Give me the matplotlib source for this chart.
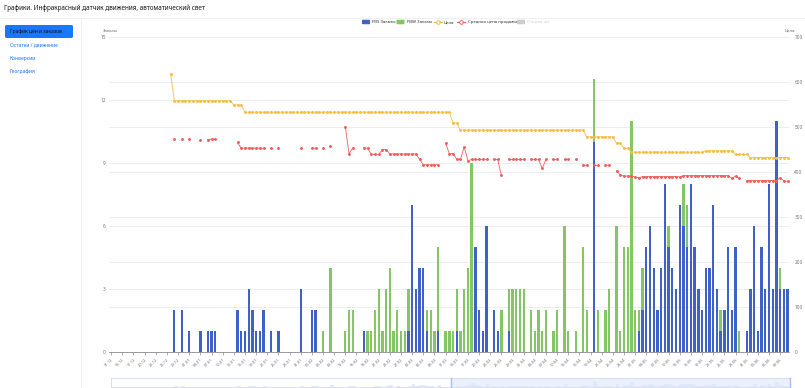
import numpy as np
import pandas as pd
import matplotlib
matplotlib.use('Agg')
import matplotlib.pyplot as plt
from matplotlib.patches import FancyBboxPatch, Rectangle
from matplotlib.lines import Line2D

plt.rcParams['font.family'] = ['Noto Sans', 'DejaVu Sans']

N = None
# categories: one per day
dates = pd.date_range('2024-12-11', '2025-06-11', freq='D')
labels = [d.strftime('%d.%m') for d in dates]

# orders (left axis)
fbs = [0, 0, 0, 0, 0, 0, 0, 0, 0, 0,
       0, 0, 0, 0, 0, 0, 0, 2, 0, 2,
       0, 1, 0, 0, 1, 0, 1, 1, 1, 0,
       0, 0, 0, 0, 2, 1, 1, 3, 2, 1,
       1, 2, 0, 1, 0, 1, 0, 0, 0, 0,
       0, 3, 0, 0, 2, 2, 0, 0, 0, 0,
       0, 0, 0, 0, 0, 0, 0, 0, 1, 0,
       0, 0, 0, 0, 0, 0, 0, 0, 0, 0,
       1, 7, 3, 4, 4, 1, 0, 0, 1, 0,
       0, 0, 0, 1, 0, 0, 0, 0, 5, 2,
       1, 6, 0, 2, 1, 0, 0, 1, 0, 0,
       0, 0, 0, 0, 0, 0, 0, 0, 0, 0,
       0, 0, 0, 0, 0, 0, 0, 0, 0, 0,
       10, 0, 0, 0, 0, 0, 0, 0, 0, 0,
       0, 0, 1, 2, 5, 6, 4, 2, 4, 8,
       5, 4, 3, 7, 6, 5, 8, 5, 3, 2,
       4, 4, 7, 3, 1, 2, 5, 2, 5, 0,
       0, 1, 3, 6, 1, 5, 3, 8, 3, 11,
       3, 3, 3]

fbw = [0, 0, 0, 0, 0, 0, 0, 0, 0, 0,
       0, 0, 0, 0, 0, 0, 0, 0, 0, 0,
       0, 0, 0, 0, 0, 0, 0, 0, 0, 0,
       0, 0, 0, 0, 0, 0, 0, 0, 0, 0,
       0, 0, 0, 0, 0, 0, 0, 0, 0, 0,
       0, 0, 0, 0, 0, 0, 0, 1, 0, 4,
       0, 0, 0, 1, 2, 2, 0, 0, 0, 1,
       1, 2, 3, 1, 3, 4, 1, 2, 1, 1,
       2, 0, 0, 0, 0, 1, 2, 1, 4, 0,
       1, 1, 1, 2, 1, 3, 4, 9, 0, 0,
       0, 0, 0, 0, 0, 2, 0, 2, 3, 3,
       3, 3, 0, 2, 1, 2, 1, 2, 0, 1,
       2, 0, 6, 1, 0, 1, 0, 5, 2, 0,
       3, 2, 0, 2, 3, 0, 6, 1, 5, 5,
       11, 2, 1, 2, 0, 0, 0, 0, 0, 0,
       1, 0, 0, 0, 2, 2, 0, 0, 0, 0,
       0, 0, 0, 0, 1, 0, 0, 0, 0, 1,
       0, 0, 0, 0, 0, 0, 0, 0, 0, 0,
       1, 0, 0]

# prices (right axis)
price = [N, N, N, N, N, N, N, N, N, N,
         N, N, N, N, N, N, 618, 558, 558, 558,
         558, 558, 558, 558, 558, 558, 558, 558, 558, 558,
         558, 558, 558, 549, 549, 549, 533, 533, 533, 533,
         533, 533, 533, 533, 533, 533, 533, 533, 533, 533,
         533, 533, 533, 533, 533, 533, 533, 533, 533, 533,
         533, 533, 533, 533, 533, 533, 533, 533, 533, 533,
         533, 533, 533, 533, 533, 533, 533, 533, 533, 533,
         533, 533, 533, 533, 533, 533, 533, 533, 533, 533,
         533, 533, 509, 509, 493, 493, 493, 493, 493, 493,
         493, 493, 493, 493, 493, 493, 493, 493, 493, 493,
         493, 493, 493, 493, 493, 493, 493, 493, 493, 493,
         493, 493, 493, 493, 493, 493, 493, 493, 478, 478,
         478, 478, 478, 478, 478, 478, 464, 464, 453, 453,
         444, 444, 444, 444, 444, 444, 444, 444, 444, 444,
         444, 444, 444, 444, 444, 444, 444, 444, 444, 444,
         447, 447, 447, 447, 447, 447, 447, 447, 439, 439,
         439, 439, 432, 432, 432, 432, 432, 432, 432, 432,
         432, 432, 432]

avg_price = [N, N, N, N, N, N, N, N, N, N,
             N, N, N, N, N, N, N, 473, N, 473,
             N, 473, N, N, 471, N, 472, 473, 473, N,
             N, N, N, N, 466, 453, 453, 453, 453, 453,
             453, 453, N, 453, N, 453, N, N, N, N,
             N, 453, N, N, 453, 453, N, 453, N, 458,
             N, N, N, 501, 441, 453, N, N, 453, 453,
             439, 439, 439, 450, 450, 440, 440, 440, 440, 440,
             440, 440, 440, 428, 416, 416, 416, 416, 416, N,
             464, 441, 441, 428, 428, 456, 425, 428, 428, 428,
             428, 428, N, 428, 428, 393, N, 428, 428, 428,
             428, 428, N, 428, 428, 428, 408, 428, N, 428,
             428, N, 428, 428, N, 428, N, 415, 415, N,
             415, 415, N, 415, 415, N, 403, 393, 391, 391,
             391, 389, 387, 390, 390, 390, 390, 390, 390, 390,
             390, 390, 390, 389, 392, 392, 392, 392, 392, 392,
             392, 392, 392, 392, 392, 392, 392, 386, 391, 386,
             N, 381, 381, 381, 381, 381, 381, 381, 381, 381,
             387, 381, 379]

W, H = 805, 388
BLUE = '#3f61c8'
GREEN = '#84c665'
YELLOW = '#f6bd45'
RED = '#ee5f5f'
AXIS = '#6e7079'
GRID = '#e6eaf2'


def fx(x):
    return x / W


def fy(y):
    return 1 - y / H


fig = plt.figure(figsize=(W / 100, H / 100), dpi=100)

# header + sidebar
fig.text(fx(4), fy(8.5), 'Графики. Инфракрасный датчик движения, автоматический свет',
         fontsize=4.6, fontweight='bold', color='#1a1a1a', va='center', ha='left')
fig.add_artist(Line2D([0, 1], [fy(17.5), fy(17.5)], color='#eeeeee', lw=0.6))
fig.add_artist(Line2D([fx(80.5), fx(80.5)], [fy(17.5), 0], color='#eeeeee', lw=0.6))
fig.add_artist(FancyBboxPatch((fx(5), fy(38)), fx(68), 13 / H,
                              boxstyle='round,pad=0,rounding_size=0.003',
                              fc='#1677ff', ec='none'))
fig.text(fx(10), fy(31.5), 'График цен и заказов', fontsize=3.6, color='#111111',
         va='center', ha='left')
menu = ['Остатки / движение', 'Конверсии', 'География']
for k, item in enumerate(menu):
    fig.text(fx(10), fy(45 + 13.3 * k), item, fontsize=3.6, color='#1677ff',
             va='center', ha='left')

# main chart
x = np.arange(len(labels))
ax = fig.add_axes([fx(109.3), fy(352), fx(789.4 - 109.3), (352 - 37) / H])
ax.set_xlim(-0.5, len(labels) - 0.5)
ax.set_ylim(0, 15)
left_ticks = [0, 3, 6, 9, 12, 15]
right_ticks = [0, 100, 200, 300, 400, 500, 600, 700]
for t in left_ticks[1:]:
    ax.axhline(t, color=GRID, lw=0.6, zorder=0)
for t in right_ticks[1:-1]:
    ax.axhline(t * 15 / 700, color=GRID, lw=0.6, zorder=0)

fbs_a = np.array(fbs)
fbw_a = np.array(fbw)
ax.bar(x, fbs_a, width=0.62, color=BLUE, zorder=2)
ax.bar(x, fbw_a, width=0.62, bottom=fbs_a, color=GREEN, zorder=2)

ax.set_yticks(left_ticks)
ax.set_yticklabels([str(t) for t in left_ticks])
ax.set_xticks(x[::3])
ax.set_xticklabels(labels[::3], rotation=45, ha='right', va='top',
                   rotation_mode='anchor')
ax.tick_params(axis='x', length=2, width=0.4, color=AXIS, labelsize=2.9,
               labelcolor=AXIS, pad=2)
ax.tick_params(axis='y', length=0, labelsize=3.4, labelcolor=AXIS, pad=2.5)
for s in ['top', 'left', 'right']:
    ax.spines[s].set_visible(False)
ax.spines['bottom'].set_color(AXIS)
ax.spines['bottom'].set_linewidth(0.5)

ax2 = ax.twinx()
ax2.set_ylim(0, 700)
ax2.set_yticks(right_ticks)
ax2.tick_params(axis='y', length=0, labelsize=3.4, labelcolor=AXIS, pad=3.5)
for s in ax2.spines.values():
    s.set_visible(False)
p = np.array([np.nan if v is None else v for v in price], dtype=float)
a = np.array([np.nan if v is None else v for v in avg_price], dtype=float)
ax2.plot(x, p, color=YELLOW, lw=0.6, marker='o', ms=1.1, zorder=3)
ax2.plot(x, a, color=RED, lw=0.6, marker='o', ms=1.1, zorder=3)

fig.text(fx(110), fy(31), 'Заказы', fontsize=3.1, color=AXIS, ha='center', va='center')
fig.text(fx(790), fy(31), 'Цена', fontsize=3.1, color=AXIS, ha='center', va='center')

# legend
ly = fy(22)
lh = 4.5 / H
fig.add_artist(FancyBboxPatch((fx(362), ly - lh / 2), fx(8), lh,
                              boxstyle='round,pad=0,rounding_size=0.001', fc=BLUE, ec='none'))
fig.text(fx(372), ly, 'FBS Заказы', fontsize=3.1, color='#333333', va='center')
fig.add_artist(FancyBboxPatch((fx(396.5), ly - lh / 2), fx(8), lh,
                              boxstyle='round,pad=0,rounding_size=0.001', fc=GREEN, ec='none'))
fig.text(fx(407), ly, 'FBW Заказы', fontsize=3.1, color='#333333', va='center')
fig.add_artist(Line2D([fx(434), fx(442)], [ly, ly], color=YELLOW, lw=0.8))
fig.add_artist(Line2D([fx(438)], [ly], marker='o', ms=2.6, mfc='white', mec=YELLOW, mew=0.7))
fig.text(fx(444), ly, 'Цена', fontsize=3.1, color='#333333', va='center')
fig.add_artist(Line2D([fx(457), fx(465)], [ly, ly], color=RED, lw=0.8))
fig.add_artist(Line2D([fx(461)], [ly], marker='o', ms=2.6, mfc='white', mec=RED, mew=0.7))
fig.text(fx(468), ly, 'Средняя цена продажи', fontsize=3.1, color='#333333', va='center')
fig.add_artist(FancyBboxPatch((fx(517), ly - lh / 2), fx(8), lh,
                              boxstyle='round,pad=0,rounding_size=0.001', fc='#cccccc', ec='none'))
fig.text(fx(527), ly, 'Отказы шт', fontsize=3.1, color='#cccccc', va='center')

# data zoom slider
sl = fig.add_axes([fx(111), fy(387), fx(790 - 111), 9 / H])
total = fbs_a + fbw_a
sl.fill_between(x, 0, total, color='#e3e8f4', lw=0, step='mid')
sl.set_xlim(-0.5, len(labels) - 0.5)
sl.set_ylim(0, total.max() * 1.6)
sl.axvspan(91, len(labels) - 0.5, color='#dde7fb', alpha=0.6, lw=0)
for s in sl.spines.values():
    s.set_color('#d2dbee')
    s.set_linewidth(0.6)
sl.set_xticks([])
sl.set_yticks([])
fig.add_artist(Line2D([fx(451), fx(451)], [fy(378), fy(387)], color='#a8bce8', lw=1.0))
fig.add_artist(Line2D([fx(789.5), fx(789.5)], [fy(378), fy(387)], color='#a8bce8', lw=1.0))

fig.savefig('out.png', dpi=100)
